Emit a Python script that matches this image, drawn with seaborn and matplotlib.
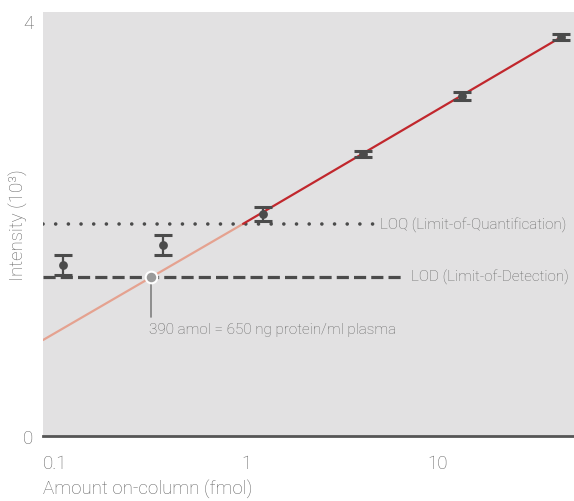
import matplotlib
matplotlib.use("Agg")
import matplotlib.pyplot as plt
import seaborn as sns
import pandas as pd

# measured calibration points (amount in fmol, intensity in 10^3)
amount = [0.110, 0.367, 1.23, 4.10, 13.5, 44.6]
intensity = [1.648, 1.841, 2.140, 2.718, 3.277, 3.846]
err = [0.096, 0.096, 0.063, 0.03, 0.04, 0.03]

# fitted line: below LOQ (light) and above LOQ (dark red)
fit_low_x = [0.0865, 0.964]
fit_low_y = [0.925, 2.045]
fit_high_x = [0.964, 44.6]
fit_high_y = [2.045, 3.846]

loq = 2.04
lod = 1.535
lod_amount = 0.318

loq_label = "LOQ (Limit-of-Quantification)"
lod_label = "LOD (Limit-of-Detection)"
note = "390 amol = 650 ng protein/ml plasma"

sns.set_theme(style="white")
plt.rcParams["font.family"] = ["Roboto", "DejaVu Sans"]

grey_text = "#646464"
dark = "#4b4b4b"

fig = plt.figure(figsize=(5.74, 5.02), dpi=100)
ax = fig.add_axes([43 / 574, 65 / 502, 1 - 43 / 574, (437 - 13) / 502])
ax.set_facecolor("#e2e1e2")
ax.set_xscale("log")
ax.set_xlim(0.0865, 52)
ax.set_ylim(0, 4.087)

# LOQ / LOD reference lines
ax.plot([0.0865, 4.7], [loq, loq], color=dark, lw=2.6,
        linestyle=(0, (0.01, 3.5)), dash_capstyle="round", zorder=2)
ax.plot([0.0865, 6.64], [lod, lod], color=dark, lw=2.3,
        linestyle=(0, (3.8, 1.6)), dash_capstyle="butt", zorder=2)
ax.text(5.0, loq, loq_label, color=grey_text, fontsize=11,
        fontweight="light", va="center", ha="left")
ax.text(7.3, lod, lod_label, color=grey_text, fontsize=11,
        fontweight="light", va="center", ha="left")

# fit lines
sns.lineplot(x=fit_low_x, y=fit_low_y, ax=ax, color="#e5a290", lw=1.6, zorder=3)
sns.lineplot(x=fit_high_x, y=fit_high_y, ax=ax, color="#c1272d", lw=1.6, zorder=3)

# data points with error bars
df = pd.DataFrame({"amount": amount, "intensity": intensity, "err": err})
ax.errorbar(df["amount"], df["intensity"], yerr=df["err"], fmt="none",
            ecolor=dark, elinewidth=1.6, capsize=6.5, capthick=2.2, zorder=4)
sns.scatterplot(data=df, x="amount", y="intensity", ax=ax, color=dark,
                s=40, edgecolor=dark, linewidth=0, zorder=5)

# LOD annotation
ax.plot([lod_amount, lod_amount], [1.147, lod], color="#7f7f7f", lw=1.2, zorder=4)
ax.scatter([lod_amount], [lod], s=70, color="#9a9a9a", edgecolor="white",
           linewidth=1.5, zorder=6)
ax.text(0.312, 1.03, note, color=grey_text, fontsize=11, fontweight="light",
        va="center", ha="left")

# axes styling
for s in ["top", "right", "left"]:
    ax.spines[s].set_visible(False)
ax.spines["bottom"].set_color("#555555")
ax.spines["bottom"].set_linewidth(2)

ax.set_xticks([0.1, 1, 10])
ax.set_xticklabels(["0.1", "1", "10"])
ax.xaxis.set_minor_locator(matplotlib.ticker.NullLocator())
ax.set_yticks([0, 4])
ax.set_yticklabels(["0", "4"])
ax.tick_params(axis="x", length=0, pad=13, labelsize=13.5, labelcolor=grey_text)
ax.tick_params(axis="y", length=0, pad=7, labelsize=13.5, labelcolor=grey_text)
for lab in ax.get_xticklabels() + ax.get_yticklabels():
    lab.set_fontweight("light")

ax.set_xlabel("Amount on-column (fmol)", fontsize=13.5, color=grey_text,
              fontweight="light", loc="left")
ax.xaxis.set_label_coords(0, -0.125)
ax.xaxis.label.set_horizontalalignment("left")
ax.xaxis.label.set_verticalalignment("center")
ax.set_ylabel("Intensity (10³)", fontsize=13.5, color=grey_text,
              fontweight="light")
ax.yaxis.set_label_coords(-0.047, 0.5)
ax.yaxis.label.set_verticalalignment("center")
ax.grid(False)

fig.savefig("out.png", dpi=100)
